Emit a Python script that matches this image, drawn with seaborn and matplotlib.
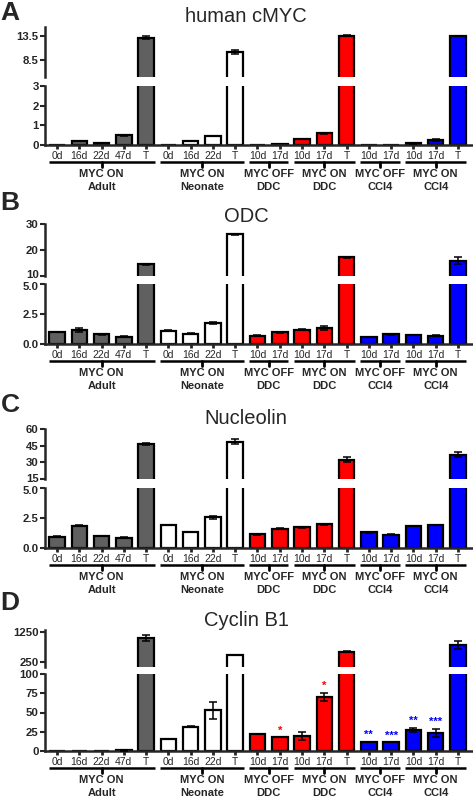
import numpy as np
import pandas as pd
import matplotlib
matplotlib.use('Agg')
import matplotlib.pyplot as plt
import matplotlib.transforms as mtransforms
import seaborn as sns

sns.set_style('ticks')
plt.rcParams['font.family'] = ['Liberation Sans', 'DejaVu Sans']

# groups shown under the x axis
group_line1 = ['MYC ON', 'MYC ON', 'MYC OFF', 'MYC ON', 'MYC OFF', 'MYC ON']
group_line2 = ['Adult', 'Neonate', 'DDC', 'DDC', 'CCl4', 'CCl4']
group_ticks = [['0d', '16d', '22d', '47d', 'T'], ['0d', '16d', '22d', 'T'], ['10d', '17d'],
               ['10d', '17d', 'T'], ['10d', '17d'], ['10d', '17d', 'T']]
group_colors = ['#606060', 'white', '#ff0000', '#ff0000', '#0000ff', '#0000ff']

# relative expression values, one entry per bar
myc_vals = [0.02, 0.22, 0.12, 0.5, 13.1, 0.0, 0.2, 0.45, 10.2,
            0.02, 0.03, 0.3, 0.6, 13.5, 0.02, 0.01, 0.08, 0.25, 13.5]
myc_err = [0, 0, 0, 0.02, 0.35, 0, 0, 0, 0.4,
           0, 0, 0.02, 0.02, 0.05, 0, 0, 0.02, 0.07, 0]

odc_vals = [0.99, 1.19, 0.82, 0.62, 14.5, 1.1, 0.85, 1.75, 26.0,
            0.7, 0.96, 1.19, 1.33, 17.2, 0.59, 0.82, 0.76, 0.7, 15.9]
odc_err = [0.03, 0.18, 0.04, 0.03, 0.3, 0.03, 0.03, 0.05, 0.3,
           0.03, 0.03, 0.04, 0.14, 0.25, 0.03, 0.03, 0.03, 0.03, 1.3]

ncl_vals = [0.94, 1.86, 1.0, 0.86, 46.8, 1.92, 1.33, 2.56, 48.6,
            1.14, 1.61, 1.72, 1.97, 32.4, 1.3, 1.11, 1.83, 1.92, 36.9]
ncl_err = [0.02, 0.05, 0.03, 0.02, 0.8, 0.03, 0.03, 0.14, 2.0,
           0.03, 0.03, 0.03, 0.06, 2.0, 0.04, 0.04, 0.03, 0.03, 2.4]

ccb_vals = [0.5, 0.3, 0.3, 0.8, 1040, 16, 31.6, 52.8, 483,
            22, 17.7, 19.5, 70.5, 593, 11.7, 11.3, 27.3, 23.8, 816]
ccb_err = [0, 0, 0, 0.3, 100, 0, 0.5, 11, 0,
           0, 0, 5, 5, 20, 0.5, 0, 3, 5, 120]
ccb_stars = ['', '', '', '', '', '', '', '', '',
             '', '*', '', '*', '', '**', '***', '**', '***', '']

# panel layout (pixel rows in the 798 px tall figure)
panels = [
    dict(letter='A', title='human cMYC', vals=myc_vals, err=myc_err, stars=None,
         up_lim=(5, 15.3), up_ticks=[8.5, 13.5], up_lbl=['8.5', '13.5'],
         lo_lim=(0, 3), lo_ticks=[0, 1, 2, 3], lo_lbl=['0', '1', '2', '3'],
         rows=(27, 77, 86, 145), title_y=17, letter_y=13),
    dict(letter='B', title='ODC', vals=odc_vals, err=odc_err, stars=None,
         up_lim=(10, 30), up_ticks=[10, 20, 30], up_lbl=['10', '20', '30'],
         lo_lim=(0, 5), lo_ticks=[0, 2.5, 5], lo_lbl=['0.0', '2.5', '5.0'],
         rows=(224, 276, 284, 344), title_y=217, letter_y=203),
    dict(letter='C', title='Nucleolin', vals=ncl_vals, err=ncl_err, stars=None,
         up_lim=(15, 60), up_ticks=[15, 30, 45, 60], up_lbl=['15', '30', '45', '60'],
         lo_lim=(0, 5), lo_ticks=[0, 2.5, 5], lo_lbl=['0.0', '2.5', '5.0'],
         rows=(429, 479, 488, 548), title_y=418, letter_y=405),
    dict(letter='D', title='Cyclin B1', vals=ccb_vals, err=ccb_err, stars=ccb_stars,
         up_lim=(83, 1317), up_ticks=[250, 1250], up_lbl=['250', '1250'],
         lo_lim=(0, 100), lo_ticks=[0, 25, 50, 75, 100], lo_lbl=['0', '25', '50', '75', '100'],
         rows=(630, 667, 674, 751), title_y=620, letter_y=603),
]

W, H = 473, 798
fig = plt.figure(figsize=(W / 100, H / 100), dpi=100)

tick_labels = [t for g in group_ticks for t in g]
bar_ids = [f'{i}_{t}' for i, t in enumerate(tick_labels)]
bar_colors = [c for g, c in zip(group_ticks, group_colors) for _ in g]
palette = dict(zip(bar_ids, bar_colors))
xpos = np.arange(len(bar_ids))

ax_left, ax_right = 45, 472
xlim = (-0.54, 18.63)


def fy(py):
    return 1 - py / H


def shift(label, dy_px):
    label.set_transform(label.get_transform()
                        + mtransforms.ScaledTranslation(0, dy_px / 100, fig.dpi_scale_trans))


def draw_bars(ax, vals, err, keep):
    v = np.array(vals, dtype=float)
    e = np.array(err, dtype=float)
    shown = keep(v)
    # bars that never reach this segment are left out, so their edges don't bleed in
    df = pd.DataFrame({'id': bar_ids, 'value': np.where(shown, v, 0.0)})
    sns.barplot(data=df, x='id', y='value', hue='id', palette=palette, legend=False,
                order=bar_ids, hue_order=bar_ids, edgecolor='black', linewidth=1.6,
                width=0.7, saturation=1, errorbar=None, ax=ax)
    m = (e > 0) & shown
    if m.any():
        ax.errorbar(xpos[m], v[m], yerr=e[m], fmt='none', ecolor='black',
                    elinewidth=1.1, capsize=3.2, capthick=1.1, zorder=5)
    ax.set_xlim(*xlim)
    ax.set_xlabel('')
    ax.set_ylabel('')


for p in panels:
    up_top, up_bot, lo_top, lo_bot = p['rows']
    ax_w = (ax_right - ax_left) / W
    ax_up = fig.add_axes([ax_left / W, fy(up_bot), ax_w, (up_bot - up_top) / H])
    ax_lo = fig.add_axes([ax_left / W, fy(lo_bot), ax_w, (lo_bot - lo_top) / H])

    up_min = p['up_lim'][0]
    draw_bars(ax_up, p['vals'], p['err'], lambda v: v > up_min)
    draw_bars(ax_lo, p['vals'], p['err'], lambda v: np.ones_like(v, dtype=bool))

    ax_up.set_ylim(*p['up_lim'])
    ax_lo.set_ylim(*p['lo_lim'])
    ax_up.set_yticks(p['up_ticks'])
    ax_up.set_yticklabels(p['up_lbl'])
    ax_lo.set_yticks(p['lo_ticks'])
    ax_lo.set_yticklabels(p['lo_lbl'])

    for a in (ax_up, ax_lo):
        for s in ['top', 'right']:
            a.spines[s].set_visible(False)
        a.spines['left'].set_linewidth(1.8)
        a.tick_params(axis='y', length=3.5, width=1.5, pad=1, labelsize=8.2)
        for t in a.get_yticklabels():
            t.set_fontweight('bold')

    # labels that sit right at the break are pushed a little apart
    if p['up_ticks'][0] <= up_min:
        shift(ax_up.get_yticklabels()[0], 1.5)
        shift(ax_lo.get_yticklabels()[-1], -1.5)

    ax_up.spines['bottom'].set_visible(False)
    ax_up.tick_params(axis='x', bottom=False, labelbottom=False)

    ax_lo.spines['bottom'].set_linewidth(1.8)
    ax_lo.set_xticks(xpos)
    ax_lo.set_xticklabels(tick_labels)
    ax_lo.tick_params(axis='x', length=3, width=2, pad=1.5, labelsize=7.5)

    # significance stars
    if p['stars'] is not None:
        for x, v, e, s, c in zip(xpos, p['vals'], p['err'], p['stars'], bar_colors):
            if s:
                ax_lo.text(x, v + e + 2, s, ha='center', va='bottom', color=c,
                           fontsize=8, fontweight='bold')

    # group brackets under the axis
    tr = mtransforms.blended_transform_factory(ax_lo.transData, fig.transFigure)
    start = 0
    for l1, l2, ticks in zip(group_line1, group_line2, group_ticks):
        x0 = start - 0.38
        x1 = start + len(ticks) - 1 + 0.38
        xc = start + (len(ticks) - 1) / 2
        ax_lo.plot([x0, x1], [fy(lo_bot + 17)] * 2, color='black', lw=1.8,
                   transform=tr, clip_on=False, solid_capstyle='butt')
        ax_lo.plot([xc, xc], [fy(lo_bot + 17), fy(lo_bot + 22)], color='black', lw=2,
                   transform=tr, clip_on=False)
        ax_lo.text(xc, fy(lo_bot + 29), l1, ha='center', va='center', fontsize=8,
                   fontweight='bold', transform=tr)
        ax_lo.text(xc, fy(lo_bot + 42), l2, ha='center', va='center', fontsize=8,
                   fontweight='bold', transform=tr)
        start += len(ticks)

    fig.text(246 / W, fy(p['title_y']), p['title'], ha='center', va='center', fontsize=14.5)
    fig.text(10 / W, fy(p['letter_y']), p['letter'], ha='center', va='center',
             fontsize=19, fontweight='bold')

fig.savefig('out.png', dpi=100)
